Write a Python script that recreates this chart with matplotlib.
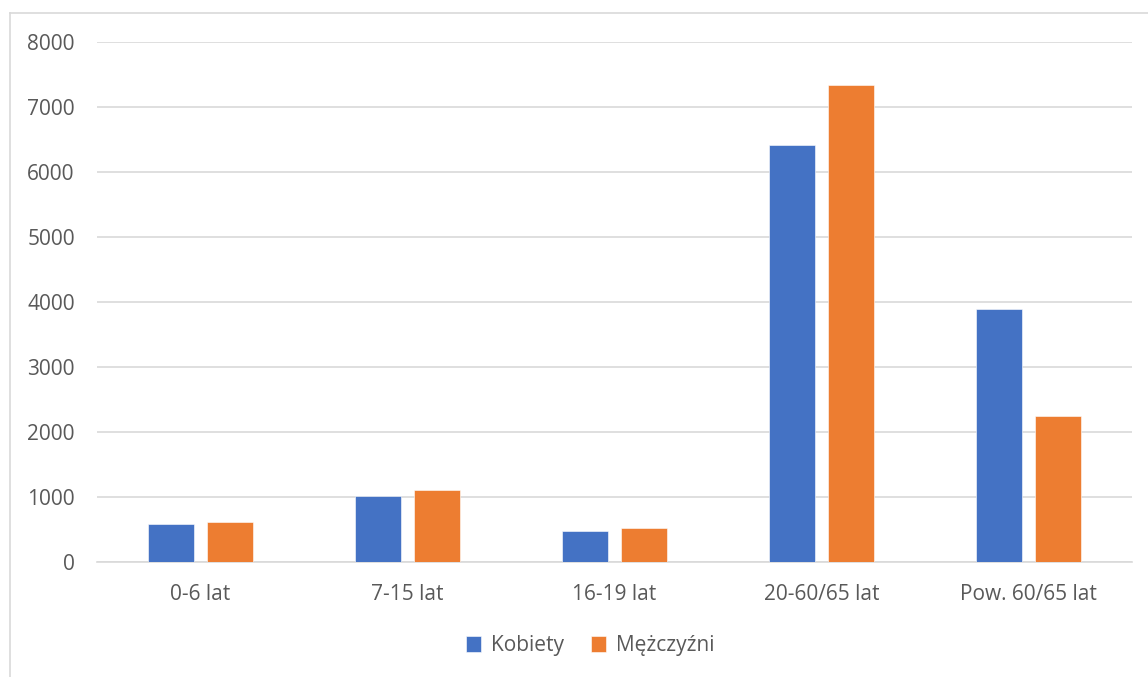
import numpy as np
import matplotlib
matplotlib.use("Agg")
import matplotlib.pyplot as plt
from matplotlib.lines import Line2D

categories = ["0-6 lat", "7-15 lat", "16-19 lat", "20-60/65 lat", "Pow. 60/65 lat"]
kobiety = [585, 1015, 477, 6415, 3887]
mezczyzni = [620, 1108, 523, 7333, 2246]
series_names = ["Kobiety", "Mężczyźni"]
y_ticks = [0, 1000, 2000, 3000, 4000, 5000, 6000, 7000, 8000]

plt.rcParams["font.family"] = ["Open Sans", "DejaVu Sans"]
TEXT = "#595959"
GRID = "#d9d9d9"

fig = plt.figure(figsize=(11.48, 6.77), dpi=100)
ax = fig.add_axes([97 / 1148, 1 - 562 / 677, (1132 - 97) / 1148, (562 - 42) / 677])

x = np.arange(len(categories))
width = 0.223
offset = 0.141
ax.bar(x - offset, kobiety, width, color="#4472C4", edgecolor="white", linewidth=0.4,
       label=series_names[0], zorder=3)
ax.bar(x + offset, mezczyzni, width, color="#ED7D31", edgecolor="white", linewidth=0.4,
       label=series_names[1], zorder=3)

ax.set_xlim(-0.5, len(categories) - 0.5)
ax.set_ylim(0, 8000)
ax.set_yticks(y_ticks)
ax.set_xticks(x)
ax.set_xticklabels(categories)
ax.tick_params(axis="both", length=0, labelsize=15, labelcolor=TEXT)
ax.tick_params(axis="y", pad=16)
ax.tick_params(axis="x", pad=16)
ax.yaxis.grid(True, color=GRID, linewidth=1.2, zorder=0)
ax.set_axisbelow(True)
for side in ["top", "right", "left"]:
    ax.spines[side].set_visible(False)
ax.spines["bottom"].set_color(GRID)
ax.spines["bottom"].set_linewidth(1.2)

# chart area border (cropped on right and bottom)
bx = 9.5 / 1148
by = 1 - 12.5 / 677
fig.add_artist(Line2D([bx, bx], [0, by], color=GRID, linewidth=1.2, transform=fig.transFigure))
fig.add_artist(Line2D([bx, 1], [by, by], color=GRID, linewidth=1.2, transform=fig.transFigure))

leg = fig.legend(loc="center", bbox_to_anchor=(0.514, 0.046), ncol=2, frameon=False,
                 fontsize=15, handlelength=0.75, handleheight=0.75, handletextpad=0.45,
                 columnspacing=1.3)
for t in leg.get_texts():
    t.set_color(TEXT)

fig.savefig("out.png", dpi=100)
